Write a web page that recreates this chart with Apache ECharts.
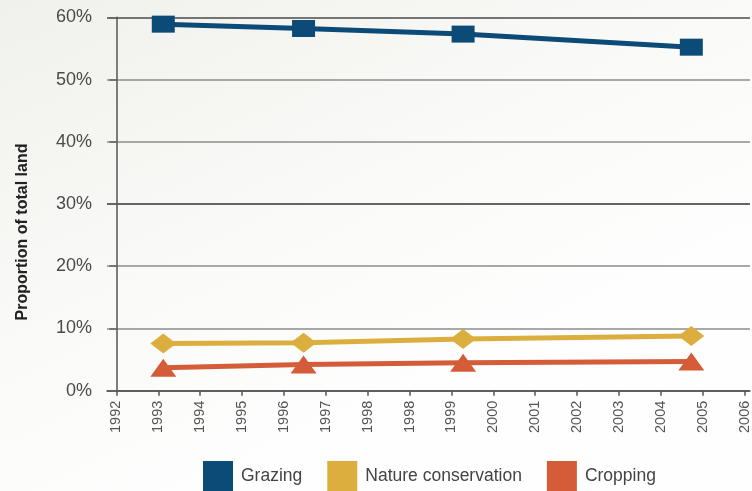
<!DOCTYPE html>
<html>
<head>
<meta charset="utf-8">
<script src="https://cdn.jsdelivr.net/npm/echarts@6/dist/echarts.min.js"></script>
<style>
  html, body { margin: 0; padding: 0; }
  #main { width: 752px; height: 491px; }
</style>
</head>
<body>
<div id="main"></div>
<script>
// tick labels along the bottom, one per tick (the source really repeats 1998)
var yearLabels = ['1992', '1993', '1994', '1995', '1996', '1997', '1998', '1998',
  '1999', '2000', '2001', '2002', '2003', '2004', '2005', '2006'];
// where each survey sits along that tick scale (0 = first tick)
var surveyPos = [1.12, 4.47, 8.28, 13.73];
var grazing = [58.9, 58.2, 57.3, 55.2];
var nature = [7.6, 7.7, 8.3, 8.8];
var cropping = [3.7, 4.2, 4.5, 4.7];

var tickIdx = yearLabels.map(function (d, i) { return i; });

function pairs(vals) {
  return vals.map(function (v, i) { return [surveyPos[i], v]; });
}

var myChart = echarts.init(document.getElementById('main'));

var option = {
  animation: false,
  backgroundColor: new echarts.graphic.LinearGradient(0, 0, 0.3, 1, [
    { offset: 0, color: '#f0f0ec' },
    { offset: 0.6, color: '#fafaf8' },
    { offset: 1, color: '#fefefe' }
  ]),
  grid: { left: 107, right: 0, top: 17.3, bottom: 100.3 },
  legend: {
    left: 203,
    top: 461,
    padding: 0,
    itemWidth: 30,
    itemHeight: 30,
    itemGap: 25,
    icon: 'rect',
    textStyle: {
      fontFamily: 'Liberation Sans',
      fontSize: 17.5,
      color: '#444',
      padding: [0, 0, 0, 3]
    },
    data: ['Grazing', 'Nature conservation', 'Cropping']
  },
  graphic: [{
    type: 'text',
    x: 23,
    y: 232,
    rotation: Math.PI / 2,
    style: {
      text: 'Proportion of total land',
      font: 'bold 16px "Liberation Sans"',
      fill: '#222',
      align: 'center',
      verticalAlign: 'middle'
    }
  }],
  xAxis: {
    type: 'value',
    min: -0.224,
    max: 15.13,
    axisLine: { lineStyle: { color: '#555', width: 1.5 } },
    axisTick: {
      customValues: tickIdx,
      length: 5,
      lineStyle: { color: '#555', width: 1.5 }
    },
    axisLabel: {
      customValues: tickIdx,
      rotate: 90,
      margin: 10,
      fontFamily: 'Liberation Sans',
      fontSize: 14.5,
      color: '#555',
      formatter: function (v) { return yearLabels[Math.round(v)]; }
    },
    splitLine: { show: false }
  },
  yAxis: {
    type: 'value',
    min: 0,
    max: 60,
    interval: 10,
    axisLine: { show: true, lineStyle: { color: '#555', width: 1.5 } },
    axisTick: { show: true, length: 7, lineStyle: { color: '#666', width: 1.5 } },
    axisLabel: {
      margin: 15,
      fontFamily: 'Liberation Sans',
      fontSize: 18,
      color: '#4a4a4a',
      formatter: '{value}%'
    },
    splitLine: {
      lineStyle: {
        width: 1.5,
        color: ['#555', '#8c8c8c', '#8c8c8c', '#333', '#8c8c8c', '#8c8c8c', '#4a4a4a']
      }
    }
  },
  series: [
    {
      name: 'Grazing',
      type: 'line',
      data: pairs(grazing),
      symbol: 'rect',
      symbolSize: [23, 17],
      lineStyle: { width: 5, color: '#0c4a77' },
      itemStyle: { color: '#0c4a77' }
    },
    {
      name: 'Nature conservation',
      type: 'line',
      data: pairs(nature),
      symbol: 'diamond',
      symbolSize: [26, 20],
      lineStyle: { width: 5, color: '#dcae3e' },
      itemStyle: { color: '#dcae3e' }
    },
    {
      name: 'Cropping',
      type: 'line',
      data: pairs(cropping),
      symbol: 'triangle',
      symbolSize: [26, 18],
      lineStyle: { width: 5, color: '#d45c39' },
      itemStyle: { color: '#d45c39' }
    }
  ]
};

myChart.setOption(option);
</script>
</body>
</html>
